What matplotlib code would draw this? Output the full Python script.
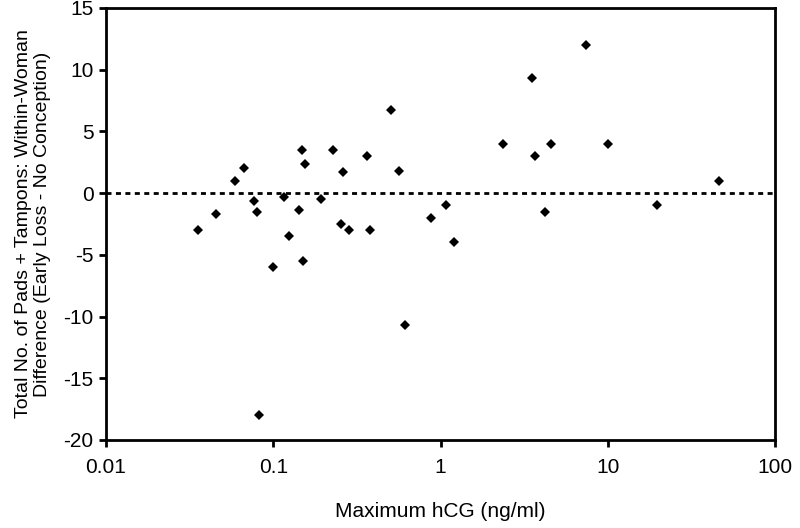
import matplotlib
matplotlib.use('Agg')
import matplotlib.pyplot as plt

plt.rcParams['font.family'] = ['Liberation Sans', 'DejaVu Sans']
plt.rcParams['axes.unicode_minus'] = False

# Maximum hCG (ng/ml) y diferencia dentro de cada mujer
hcg = [0.0356, 0.0454, 0.0593, 0.0668, 0.0767, 0.0796, 0.0821, 0.0992,
       0.1164, 0.1247, 0.1418, 0.149, 0.150, 0.1547, 0.192, 0.2265,
       0.254, 0.26, 0.2835, 0.3616, 0.3785, 0.505, 0.566, 0.615,
       0.877, 1.077, 1.21, 2.35, 3.52, 3.68, 4.21, 4.57, 7.40, 9.97,
       19.6, 46.1]
diff = [-3.0, -1.67, 1.0, 2.0, -0.67, -1.5, -18.0, -6.0,
        -0.33, -3.5, -1.33, 3.5, -5.5, 2.33, -0.5, 3.5,
        -2.5, 1.67, -3.0, 3.0, -3.0, 6.75, 1.8, -10.67,
        -2.0, -1.0, -4.0, 4.0, 9.33, 3.0, -1.5, 4.0, 12.0, 4.0,
        -1.0, 1.0]

xticks = [0.01, 0.1, 1, 10, 100]
xticklabels = ['0.01', '0.1', '1', '10', '100']
yticks = [-20, -15, -10, -5, 0, 5, 10, 15]

fig = plt.figure(figsize=(8, 5.28), dpi=100)
ax = fig.add_axes([0.1325, 0.1667, 0.969 - 0.1325, 0.985 - 0.1667])

ax.axhline(0, color='black', lw=2, ls=(0, (1.8, 1.6)), zorder=1)
ax.plot(hcg, diff, ls='none', marker='D', ms=4.6, color='black',
        markeredgewidth=0, zorder=3)

ax.set_xscale('log')
ax.set_xlim(0.01, 100)
ax.set_ylim(-20, 15)
ax.set_xticks(xticks)
ax.set_xticklabels(xticklabels)
ax.minorticks_off()
ax.set_yticks(yticks)

for s in ax.spines.values():
    s.set_linewidth(2)
    s.set_color('black')
ax.tick_params(axis='both', direction='out', length=5, width=2,
               labelsize=15, pad=4)
ax.tick_params(axis='x', pad=8)

ax.set_xlabel('Maximum hCG (ng/ml)', fontsize=15, labelpad=18)
ax.set_ylabel('Total No. of Pads + Tampons: Within-Woman\n'
              'Difference (Early Loss - No Conception)',
              fontsize=14, labelpad=9, linespacing=1.15)

fig.savefig('out.png', dpi=100)
